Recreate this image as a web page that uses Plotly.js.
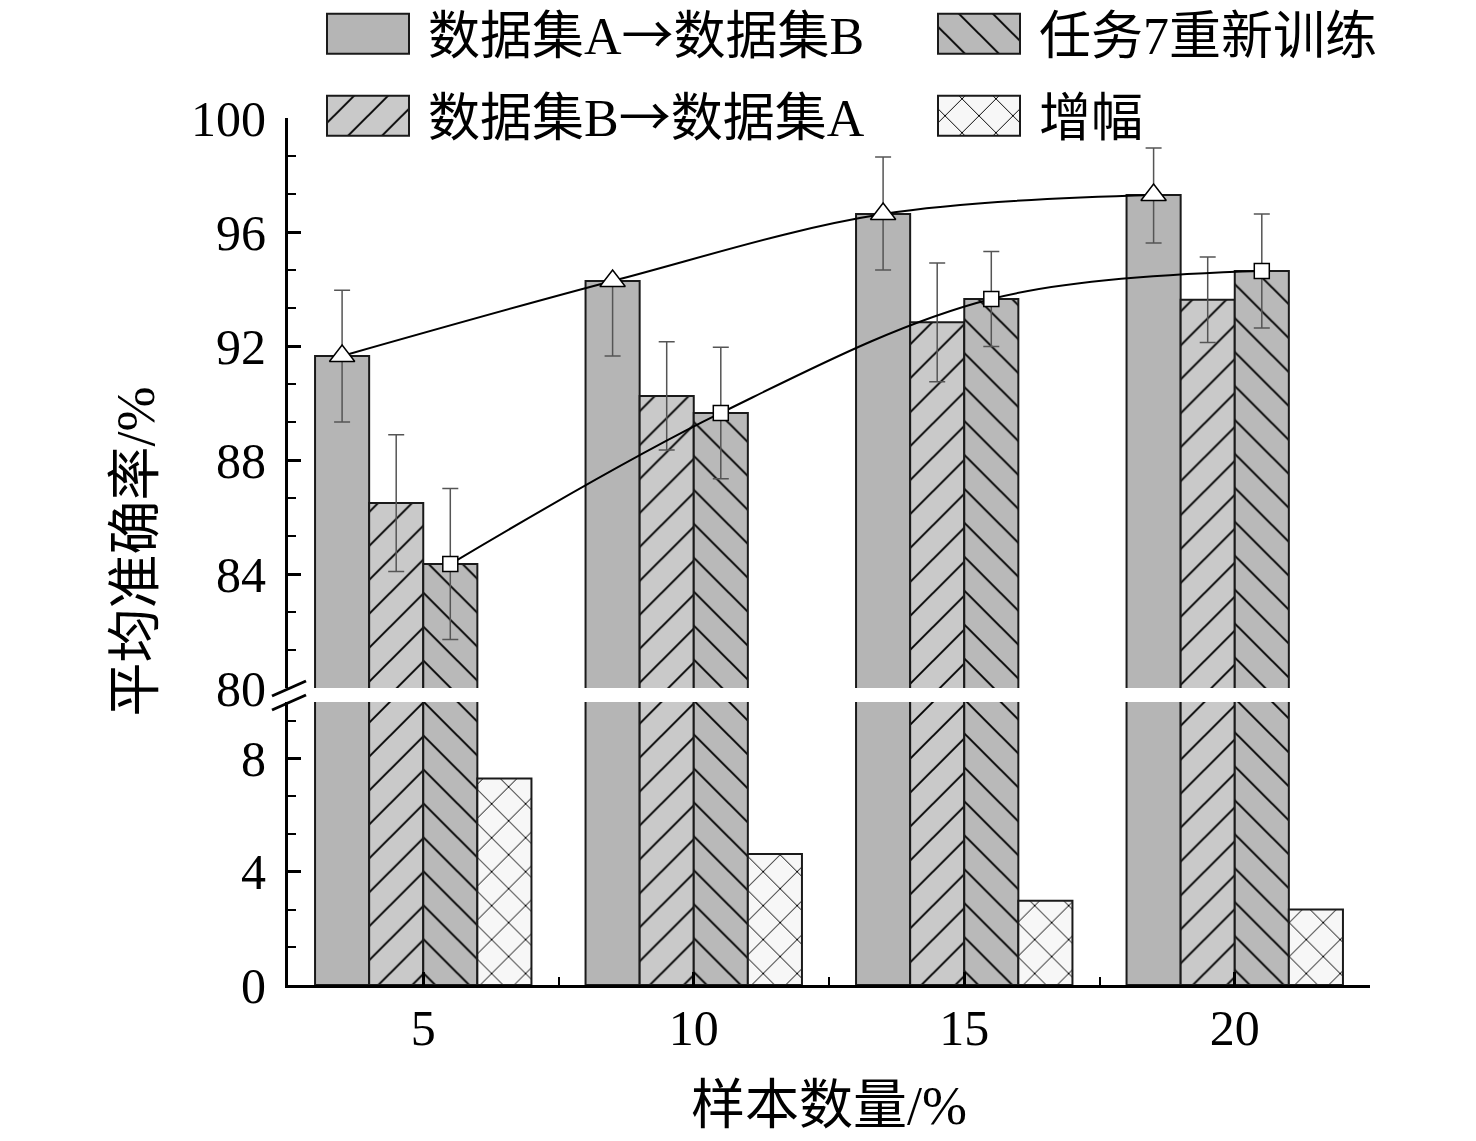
<!DOCTYPE html>
<html><head><meta charset="utf-8">
<script src="https://cdn.plot.ly/plotly-3.0.1.min.js"></script>
<style>html,body{margin:0;padding:0;background:#fff;} #chart{width:1476px;height:1141px;}</style>
</head><body><div id="chart"></div>
<script>
// ---- data ----
const categories = ['5', '10', '15', '20'];
const ARROW = '<span style="font-family:\'Noto Sans CJK SC\'">→</span>';
const seriesNames = ['数据集A' + ARROW + '数据集B', '数据集B' + ARROW + '数据集A', '任务7重新训练', '增幅'];
const accAtoB = [91.65, 94.28, 96.63, 97.30];
const accBtoA = [86.49, 90.25, 92.83, 93.62];
const accRetrain = [84.35, 89.65, 93.65, 94.63];
const gain = [7.30, 4.63, 2.98, 2.67];
const errAtoBPlus = [2.31, 0, 2.00, 1.65];
const errAtoBMinus = [2.32, 2.63, 1.96, 1.69];
const errBtoA = [2.40, 1.90, 2.08, 1.50];
const errRetrain = [2.65, 2.31, 1.67, 2.00];
const yTicksLow = [0, 4, 8];
const yTicksHigh = [80, 84, 88, 92, 96, 100];
const xTitle = '样本数量/%';
const yTitle = '平均准确率/%';

// ---- styling ----
const FONT = '"Liberation Serif", "Times New Roman", "Noto Sans CJK SC", serif';
const BAR_W = 0.2;
const OFFSETS = [-0.4, -0.2, 0.0, 0.2];
const xIdx = categories.map((_, i) => i);
const shift = (k) => xIdx.map(i => i + OFFSETS[k] + BAR_W / 2);
const OUTLINE = {color: '#1a1a1a', width: 2};
const PAT = {fgcolor: '#000', size: 24, solidity: 0.08, fillmode: 'replace'};
const STYLES = [
  {color: '#b5b5b5'},
  {color: '#c9c9c9', pattern: Object.assign({shape: '/', bgcolor: '#c9c9c9'}, PAT)},
  {color: '#b9b9b9', pattern: Object.assign({shape: '\\', bgcolor: '#b9b9b9'}, PAT)},
  {color: '#f7f7f7', pattern: Object.assign({shape: 'x', bgcolor: '#f7f7f7'}, PAT)}
];
const ERR_STYLE = {color: '#555', thickness: 1.5, width: 8};

function barTrace(k, y, yaxis, legend, showlegend, err) {
  const t = {
    type: 'bar', name: seriesNames[k], x: xIdx, y: y, yaxis: yaxis, xaxis: 'x',
    width: BAR_W, offset: OFFSETS[k],
    marker: Object.assign({line: OUTLINE}, STYLES[k]),
    showlegend: showlegend, legend: legend, hoverinfo: 'y'
  };
  if (err) t.error_y = Object.assign({type: 'data', visible: true}, err, ERR_STYLE);
  return t;
}

const traces = [
  // lower (broken) panel
  barTrace(0, accAtoB, 'y', 'legend', false),
  barTrace(1, accBtoA, 'y', 'legend2', false),
  barTrace(2, accRetrain, 'y', 'legend3', false),
  barTrace(3, gain, 'y', 'legend4', true),
  // upper panel
  barTrace(0, accAtoB, 'y2', 'legend', true, {symmetric: false, array: errAtoBPlus, arrayminus: errAtoBMinus}),
  barTrace(1, accBtoA, 'y2', 'legend2', true, {array: errBtoA}),
  barTrace(2, accRetrain, 'y2', 'legend3', true, {array: errRetrain}),
  {type: 'scatter', mode: 'lines+markers', x: shift(0), y: accAtoB, xaxis: 'x', yaxis: 'y2',
   line: {shape: 'spline', smoothing: 1, color: '#000', width: 2},
   marker: {symbol: 'triangle-up', size: 22, color: '#fff', line: {color: '#000', width: 1.5}},
   showlegend: false, hoverinfo: 'y'},
  {type: 'scatter', mode: 'lines+markers', x: shift(2), y: accRetrain, xaxis: 'x', yaxis: 'y2',
   line: {shape: 'spline', smoothing: 1, color: '#000', width: 2},
   marker: {symbol: 'square', size: 15, color: '#fff', line: {color: '#000', width: 1.5}},
   showlegend: false, hoverinfo: 'y'}
];

const plotTop = 118, plotBottom = 985, plotH = plotBottom - plotTop;
const plotLeft = 288, plotW = 1082;
const py = (pix) => (plotBottom - pix) / plotH;
const px = (pix) => (pix - plotLeft) / plotW;

const yCommon = {
  showline: true, linecolor: '#000', linewidth: 3, mirror: false,
  ticks: 'inside', ticklen: 13, tickwidth: 2.5, tickcolor: '#000',
  minor: {dtick: 4 / 3, ticks: 'inside', ticklen: 8, tickwidth: 2, tickcolor: '#000', showgrid: false},
  showgrid: false, zeroline: false, tickmode: 'array',
  tickfont: {family: FONT, size: 50, color: '#000'}, ticklabelstandoff: 9, fixedrange: true
};

const legendCommon = {
  xanchor: 'left', yanchor: 'middle', orientation: 'v', bgcolor: 'rgba(0,0,0,0)', borderwidth: 0,
  font: {family: FONT, size: 52, color: '#000'}, itemwidth: 110, itemclick: false, itemdoubleclick: false
};
const legCol = [px(308), px(919)];
const legRow = [py(34), py(116)];

const layout = {
  width: 1476, height: 1141,
  margin: {l: 288, r: 106, t: 118, b: 156, autoexpand: false},
  paper_bgcolor: '#fff', plot_bgcolor: 'rgba(0,0,0,0)',
  barmode: 'overlay',
  font: {family: FONT, color: '#000'},
  xaxis: {
    range: [-0.5, 3.5], anchor: 'y', domain: [0, 1],
    tickmode: 'array', tickvals: xIdx, ticktext: categories,
    showline: true, linecolor: '#000', linewidth: 3,
    ticks: 'inside', ticklen: 13, tickwidth: 2.5, tickcolor: '#000',
    minor: {tick0: 0.5, dtick: 1, ticks: 'inside', ticklen: 8, tickwidth: 2, tickcolor: '#000', showgrid: false},
    showgrid: false, zeroline: false,
    tickfont: {family: FONT, size: 50, color: '#000'}, ticklabelstandoff: -3,
    title: {text: xTitle, font: {family: FONT, size: 54, color: '#000'}, standoff: 32},
    fixedrange: true
  },
  yaxis: Object.assign({}, yCommon, {domain: [0, py(702)], range: [0, 10], tickvals: yTicksLow, anchor: 'x'}),
  yaxis2: Object.assign({}, yCommon, {domain: [py(688), 1], range: [80, 100], tickvals: yTicksHigh, anchor: 'x'}),
  legend: Object.assign({}, legendCommon, {x: legCol[0], y: legRow[0]}),
  legend2: Object.assign({}, legendCommon, {x: legCol[0], y: legRow[1]}),
  legend3: Object.assign({}, legendCommon, {x: legCol[1], y: legRow[0]}),
  legend4: Object.assign({}, legendCommon, {x: legCol[1], y: legRow[1]}),
  shapes: [
    {type: 'line', xref: 'paper', yref: 'paper', x0: px(272), x1: px(306), y0: py(696), y1: py(681), line: {color: '#000', width: 3}, layer: 'above'},
    {type: 'line', xref: 'paper', yref: 'paper', x0: px(272), x1: px(306), y0: py(710), y1: py(695), line: {color: '#000', width: 3}, layer: 'above'}
  ],
  annotations: [
    {text: yTitle, xref: 'paper', yref: 'paper', x: px(135), y: 0.5, xanchor: 'center', yanchor: 'middle',
     textangle: -90, showarrow: false, font: {family: FONT, size: 54, color: '#000'}}
  ],
  hovermode: false
};

const gd = document.getElementById('chart');

// enlarge legend swatches to the reference's wide boxes, reusing the plot's own fill patterns
function enlargeSwatches() {
  try {
    const fillByName = {};
    gd.querySelectorAll('g.trace.bars').forEach(g => {
      const d = g.__data__;
      const tr = d && d[0] && d[0].trace;
      const p = g.querySelector('g.point path') || g.querySelector('path');
      if (tr && p && p.style.fill) fillByName[tr.name] = p.style.fill;
    });
    gd.querySelectorAll('g.legendpoints').forEach(lp => {
      const p = lp.querySelector('path');
      if (!p) return;
      if (p.getAttribute('d') !== 'M41,20H-41V-20H41Z') p.setAttribute('d', 'M41,20H-41V-20H41Z');
      const g = lp.parentNode;
      const d = g && g.__data__;
      let tr = null;
      if (d && d[0]) tr = d[0].trace || (d[0][0] && d[0][0].trace);
      if (tr && fillByName[tr.name] && p.style.fill !== fillByName[tr.name]) p.style.fill = fillByName[tr.name];
      p.style.strokeWidth = '2px';
    });
  } catch (e) { console.log(e); }
}

Plotly.newPlot(gd, traces, layout, {displayModeBar: false}).then(() => {
  enlargeSwatches();
  gd.on('plotly_afterplot', enlargeSwatches);
  let n = 0;
  const iv = setInterval(() => { enlargeSwatches(); if (++n > 30) clearInterval(iv); }, 50);
});
</script>
</body></html>
